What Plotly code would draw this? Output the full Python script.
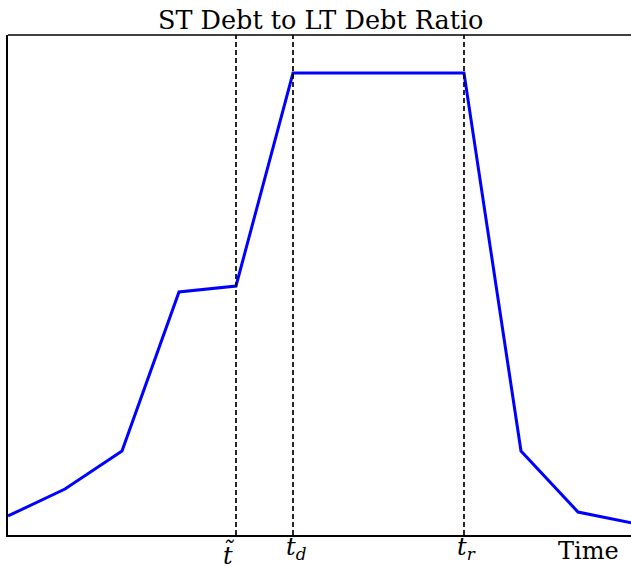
import plotly.graph_objects as go

# Time periods and the short-term to long-term debt ratio path
periods = [0, 1, 2, 3, 4, 5, 6, 7, 8, 9, 10, 11]
ratio = [0.19, 0.46, 0.84, 2.43, 2.49, 4.62, 4.62, 4.62, 4.62, 0.84, 0.23, 0.115]

# Key dates marked on the time axis
event_times = [4, 5, 8]
event_labels = ["<i>t̃</i>", "<i>t</i><sub><i>d</i></sub>", "<i>t</i><sub><i>r</i></sub>"]

serif = "DejaVu Serif"

fig = go.Figure()
fig.add_trace(go.Scatter(
    x=periods, y=ratio, mode="lines",
    line=dict(color="#0000ff", width=3),
    showlegend=False, hoverinfo="skip",
))

for t, lab in zip(event_times, event_labels):
    fig.add_shape(type="line", xref="x", yref="paper", x0=t, x1=t, y0=0, y1=1,
                  line=dict(color="black", width=1.7, dash="5px,3px"), layer="above")
    has_sub = "<sub>" in lab
    # date label under the axis; accented labels sit a little lower
    fig.add_annotation(text=lab, xref="x", yref="paper", x=t, y=0,
                       xanchor="left" if has_sub else "center",
                       xshift=-9 if has_sub else -7,
                       yanchor="top", yshift=4 if has_sub else -2, showarrow=False,
                       font=dict(family=serif, size=24, color="black"))

# top frame line
fig.add_shape(type="line", xref="paper", yref="paper", x0=0, x1=1, y0=1, y1=1,
              line=dict(color="black", width=1.3))

fig.add_annotation(text="ST Debt to LT Debt Ratio", xref="paper", yref="paper",
                   x=0.502, y=1, yanchor="bottom", yshift=-2, showarrow=False,
                   font=dict(family=serif, size=25.5, color="black"))
fig.add_annotation(text="Time", xref="paper", yref="paper", x=1, xanchor="right",
                   xshift=-10, y=0, yanchor="top", yshift=0, showarrow=False,
                   font=dict(family=serif, size=24, color="black"))

fig.update_layout(
    width=631, height=566,
    margin=dict(l=8, r=0, t=35, b=31, autoexpand=False),
    paper_bgcolor="white", plot_bgcolor="white",
    xaxis=dict(range=[0, 10.93], showgrid=False, zeroline=False, automargin=False,
               showline=True, linecolor="black", linewidth=1.5,
               tickvals=event_times, showticklabels=False, ticks=""),
    yaxis=dict(range=[0, 5.0], showgrid=False, zeroline=False, automargin=False,
               showline=True, linecolor="black", linewidth=1.5,
               showticklabels=False, ticks=""),
)

fig.write_html("out.html")
